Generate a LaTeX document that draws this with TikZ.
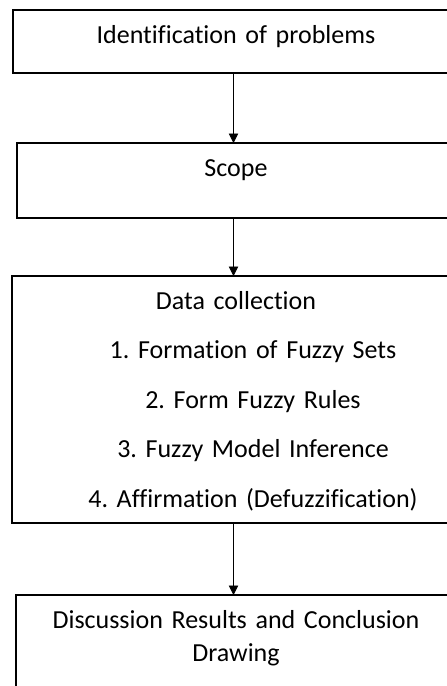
\documentclass[tikz,border=0pt]{standalone}
\usepackage{fontspec}
\setmainfont{Carlito}[Ligatures=NoCommon]
\usetikzlibrary{arrows.meta,positioning}
\frenchspacing

\begin{document}
\begin{tikzpicture}[x=1pt,y=1pt]

\tikzstyle{stage}=[rectangle,draw,line width=1.9pt,inner xsep=0pt,inner ysep=0pt,outer sep=0pt,align=center,text height=33pt,font=\fontsize{26}{33}\selectfont]
\tikzstyle{flow}=[-{Triangle[width=9.5pt,length=9.5pt]},line width=0.9pt]

\useasboundingbox (0,0) rectangle (447,-686);
\clip (0,0) rectangle (447,-686);

\node [stage,anchor=north west,text width=446pt,text depth=30pt] (ident) at (13,-10) {Identification of problems};
\node [stage,below=70pt of ident,text width=438pt,text depth=42pt] (scope) {Scope};
\node [stage,below=58pt of scope,text width=448pt,text depth=214pt,font=\fontsize{26}{49.5}\selectfont] (collect)
  {Data collection\\
   \hspace*{34pt}1. Formation of Fuzzy Sets\\
   \hspace*{34pt}2. Form Fuzzy Rules\\
   \hspace*{34pt}3. Fuzzy Model Inference\\
   \hspace*{34pt}4. Affirmation (Defuzzification)};
\node [stage,below=72pt of collect,text width=440pt,text depth=140pt] (result)
  {Discussion Results and Conclusion\\ Drawing};

\draw[flow] ([xshift=-2.5pt]ident.south) -- ([xshift=-2.5pt]scope.north);
\draw[flow] ([xshift=-2.5pt]scope.south) -- ([xshift=-2.5pt]collect.north);
\draw[flow] ([xshift=-2.5pt]collect.south) -- ([xshift=-2.5pt]result.north);

\end{tikzpicture}
\end{document}
